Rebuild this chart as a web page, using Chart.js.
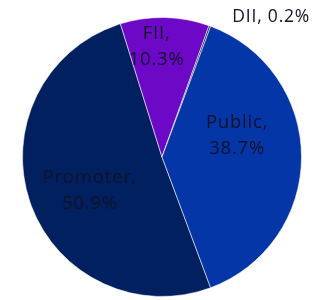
<!DOCTYPE html>
<html>
<head>
<meta charset="utf-8">
<script src="https://cdn.jsdelivr.net/npm/chart.js@4/dist/chart.umd.min.js"></script>
<style>
  html, body { margin: 0; padding: 0; background: #fff; }
  #wrap { width: 320px; height: 300px; position: relative; }
</style>
</head>
<body>
<div id="wrap"><canvas id="pie"></canvas></div>
<script>
// shareholding split
var labels = ['Promoter', 'FII', 'DII', 'Public'];
var shares = [50.9, 10.3, 0.2, 38.7];
var colors = ['#002060', '#6c08c6', '#1a1a2a', '#0536a8'];

// where each label sits: fraction of radius, angle tweak (deg)
var labelSpots = [
  { r: 0.57, da: -6 },
  { r: 0.79, da: -4 },
  { r: 1.27, da: 18 },
  { r: 0.56, da: -16 }
];

var sliceLabels = {
  id: 'sliceLabels',
  afterDatasetsDraw: function(chart) {
    var ctx = chart.ctx;
    var meta = chart.getDatasetMeta(0);
    ctx.save();
    ctx.font = '18.5px "Open Sans"';
    ctx.letterSpacing = '0.8px';
    ctx.fillStyle = '#121228';
    ctx.textAlign = 'center';
    ctx.textBaseline = 'middle';
    meta.data.forEach(function(arc, i) {
      var p = arc.getProps(['x', 'y', 'startAngle', 'endAngle', 'outerRadius'], true);
      var spot = labelSpots[i];
      var mid = (p.startAngle + p.endAngle) / 2 + spot.da * Math.PI / 180;
      var rr = p.outerRadius * spot.r;
      var x = p.x + Math.cos(mid) * rr;
      var y = p.y + Math.sin(mid) * rr;
      var txt = labels[i] + ', ' + shares[i].toFixed(1) + '%';
      if (spot.r > 1) {
        ctx.font = '17.5px "Open Sans"';
        ctx.fillText(txt, x, y);
        ctx.font = '18.5px "Open Sans"';
      } else {
        ctx.fillText(labels[i] + ',', x, y - 13);
        ctx.fillText(shares[i].toFixed(1) + '%', x, y + 13);
      }
    });
    ctx.restore();
  }
};

new Chart(document.getElementById('pie'), {
  type: 'pie',
  data: {
    labels: labels,
    datasets: [{
      data: shares,
      backgroundColor: colors,
      borderColor: 'rgba(255,255,255,0.55)',
      borderWidth: 1
    }]
  },
  options: {
    responsive: true,
    maintainAspectRatio: false,
    animation: false,
    rotation: 159.6,
    layout: { padding: { top: 17, bottom: 3, left: 4, right: 0 } },
    plugins: {
      legend: { display: false },
      tooltip: { enabled: false }
    }
  },
  plugins: [sliceLabels]
});
</script>
</body>
</html>
